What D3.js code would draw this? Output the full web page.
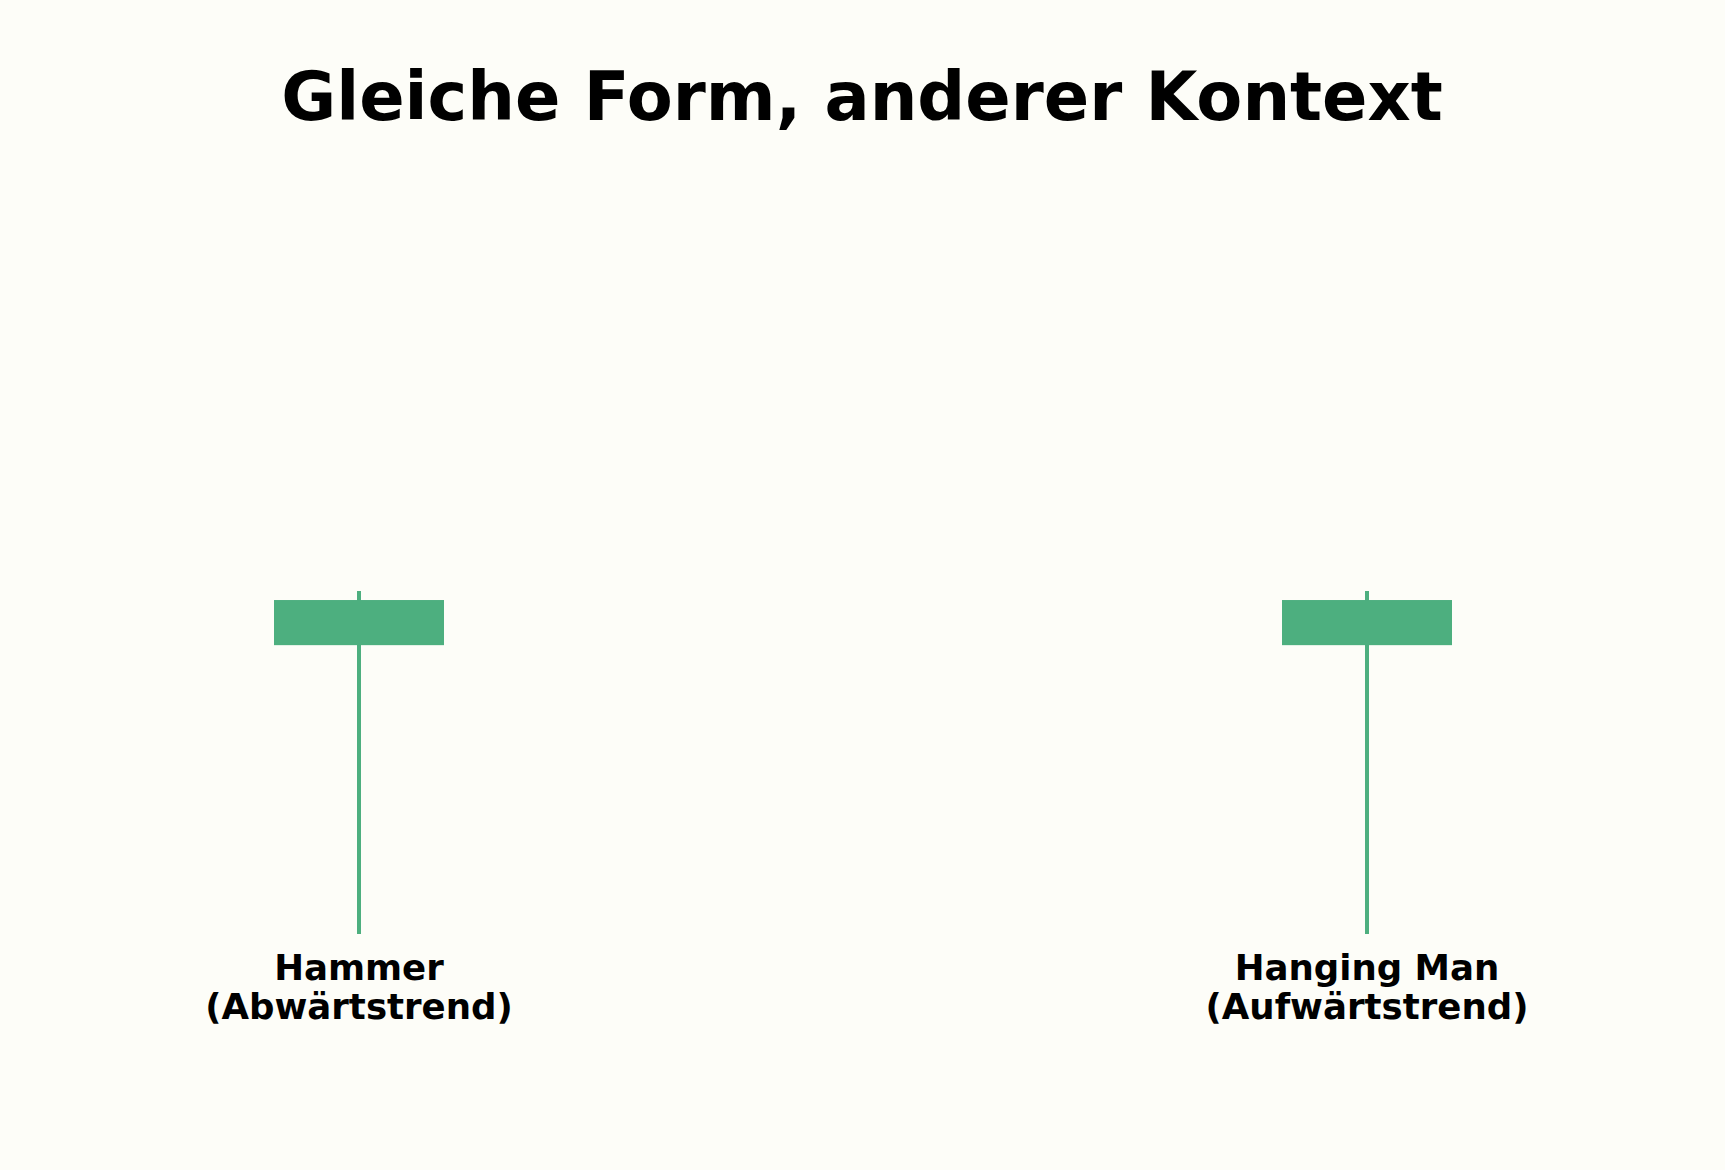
<!DOCTYPE html>
<html>
<head>
<meta charset="utf-8">
<script src="https://cdn.jsdelivr.net/npm/d3@7"></script>
<style>
  html, body { margin: 0; padding: 0; background: #fdfdf8; }
  svg { display: block; }
</style>
</head>
<body>
<div id="chart"></div>
<script>
// data ------------------------------------------------------------
var names  = ["Hammer", "Hanging Man"];
var trends = ["(Abwärtstrend)", "(Aufwärtstrend)"];
var opens  = [100, 100];
var closes = [101, 101];
var highs  = [101.2, 101.2];
var lows   = [93.6, 93.6];

var title = "Gleiche Form, anderer Kontext";

// layout ----------------------------------------------------------
var W = 1725, H = 1170;
var green = "#4daf7f";
var bodyW = 170;

var svg = d3.select("#chart").append("svg")
    .attr("width", W)
    .attr("height", H);

svg.append("rect")
    .attr("width", W).attr("height", H)
    .attr("fill", "#fdfdf8");

var candles = names.map(function(n, i) {
    return { name: n, trend: trends[i], open: opens[i], close: closes[i], high: highs[i], low: lows[i] };
});

var x = d3.scalePoint()
    .domain(names)
    .range([359, 1367]);

var y = d3.scaleLinear()
    .domain([d3.min(lows), d3.max(highs)])
    .range([934, 591]);

// title
svg.append("text")
    .attr("x", 862)
    .attr("y", 120)
    .attr("text-anchor", "middle")
    .style("font-family", "DejaVu Sans")
    .style("font-weight", "bold")
    .style("font-size", "67px")
    .attr("fill", "#000")
    .text(title);

var g = svg.selectAll("g.candle")
    .data(candles)
    .enter()
    .append("g")
    .attr("class", "candle");

// wick
g.append("line")
    .attr("x1", function(d) { return x(d.name); })
    .attr("x2", function(d) { return x(d.name); })
    .attr("y1", function(d) { return y(d.high); })
    .attr("y2", function(d) { return y(d.low); })
    .attr("stroke", green)
    .attr("stroke-width", 4);

// body
g.append("rect")
    .attr("x", function(d) { return x(d.name) - bodyW / 2; })
    .attr("y", function(d) { return y(Math.max(d.open, d.close)); })
    .attr("width", bodyW)
    .attr("height", function(d) { return Math.abs(y(d.open) - y(d.close)); })
    .attr("fill", green);

// labels
var lab = g.append("text")
    .attr("text-anchor", "middle")
    .style("font-family", "DejaVu Sans")
    .style("font-weight", "bold")
    .style("font-size", "35.6px")
    .attr("fill", "#000");

lab.append("tspan")
    .attr("x", function(d) { return x(d.name); })
    .attr("y", 980)
    .text(function(d) { return d.name; });

lab.append("tspan")
    .attr("x", function(d) { return x(d.name); })
    .attr("y", 1019)
    .text(function(d) { return d.trend; });
</script>
</body>
</html>
